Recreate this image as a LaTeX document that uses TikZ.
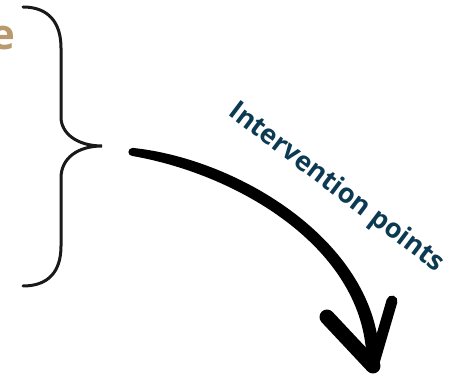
\documentclass[tikz,border=0pt]{standalone}
\usepackage{fontspec}
\usetikzlibrary{calc}
\setmainfont{Open Sans}
\definecolor{tan}{HTML}{B99A6D}
\definecolor{teal}{HTML}{0B3A52}
\tikzset{
  brace/.style={line width=3pt, draw=black!90, line cap=round},
  barb/.style={line width=15pt, draw=black, line cap=round},
  lbl/.style={font=\bfseries\fontsize{27}{27}\selectfont, text=teal, inner sep=0pt},
}
\begin{document}
\begin{tikzpicture}[x=1pt,y=-1pt]
\useasboundingbox (0,0) rectangle (456,379);
\clip (0,0) rectangle (456,379);
\fill[white] (0,0) rectangle (456,379);
\node[font=\bfseries\fontsize{42}{42}\selectfont, text=tan, inner sep=0pt, anchor=base east] (e) at (16,50) {e};
\draw[brace] (23,7) .. controls (48,7) and (61,22) .. (61,48) -- (61,117)
  .. controls (61,134) and (78,146) .. (102,146)
  .. controls (78,146) and (61,158) .. (61,178) -- (61,246)
  .. controls (61,272) and (48,286) .. (23,286);
\coordinate (s) at (133,152);
\coordinate (t) at (373,366);
\fill ($(s)+(0.6,-4)$) .. controls (244.5,160) and (383,248) .. ($(t)+(6.5,0)$)
  -- ($(t)+(-6.5,0)$) .. controls (369,252) and (241.5,175) .. ($(s)+(-0.6,4)$)
  arc[start angle=270, end angle=90, radius=4pt] -- cycle;
\coordinate (bl) at (327,317);
\coordinate (br) at (392,301);
\draw[barb] (bl) -- (t);
\draw[line width=11pt, line cap=round] (br) -- (t);
\node[lbl, rotate=-37] (lab) at (336,188) {Intervention points};
\end{tikzpicture}
\end{document}
